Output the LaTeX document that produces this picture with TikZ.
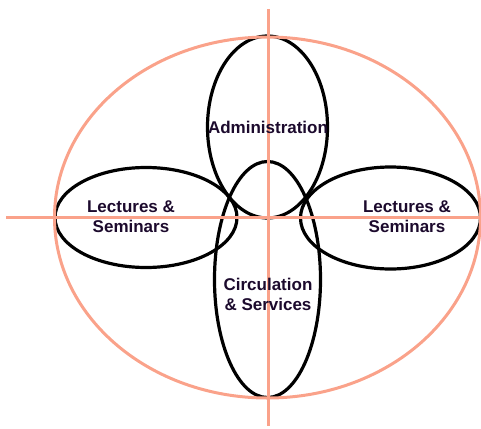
\documentclass[tikz,border=0pt]{standalone}
\usepackage{fontspec}
\setmainfont{Liberation Sans}
\usepackage{tikz}

\definecolor{salmon}{RGB}{250,162,138}
\definecolor{inkpurple}{RGB}{28,10,45}

\tikzset{
  zone/.style={draw=black, line width=3.2pt},
  axis/.style={draw=salmon, line width=3pt},
  label/.style={text=inkpurple, font=\fontsize{17}{20}\selectfont\bfseries, align=center, inner sep=0pt}
}

\begin{document}
\begin{tikzpicture}[x=1pt,y=-1pt]
			\useasboundingbox (0,0) rectangle (481,428);
			
			% the four zones
			\draw[zone] (267.5,127) ellipse (60 and 91);
			\draw[zone] (267.5,279.5) ellipse (53 and 118);
			\draw[zone] (146,217.5) ellipse (91 and 50);
			\draw[zone] (390.5,218) ellipse (90 and 51);
			
			% outer boundary and axes
			\draw[axis] (267.5,217.5) ellipse (213 and 180.5);
			\coordinate (top) at (268,9);
			\coordinate (bottom) at (268,426);
			\coordinate (left) at (6,217.5);
			\coordinate (right) at (480,217.5);
			\draw[axis] (top) -- (bottom);
			\draw[axis] (left) -- (right);
			
			\node[label] (admin) at (268,127) {Administration};
			\node[label] (lecl) at (131,216.5) {Lectures \&\\Seminars};
			\node[label] (lecr) at (407,216.5) {Lectures \&\\Seminars};
			\node[label] (circ) at (268,294) {Circulation\\\& Services};
			
		\end{tikzpicture}
\end{document}
